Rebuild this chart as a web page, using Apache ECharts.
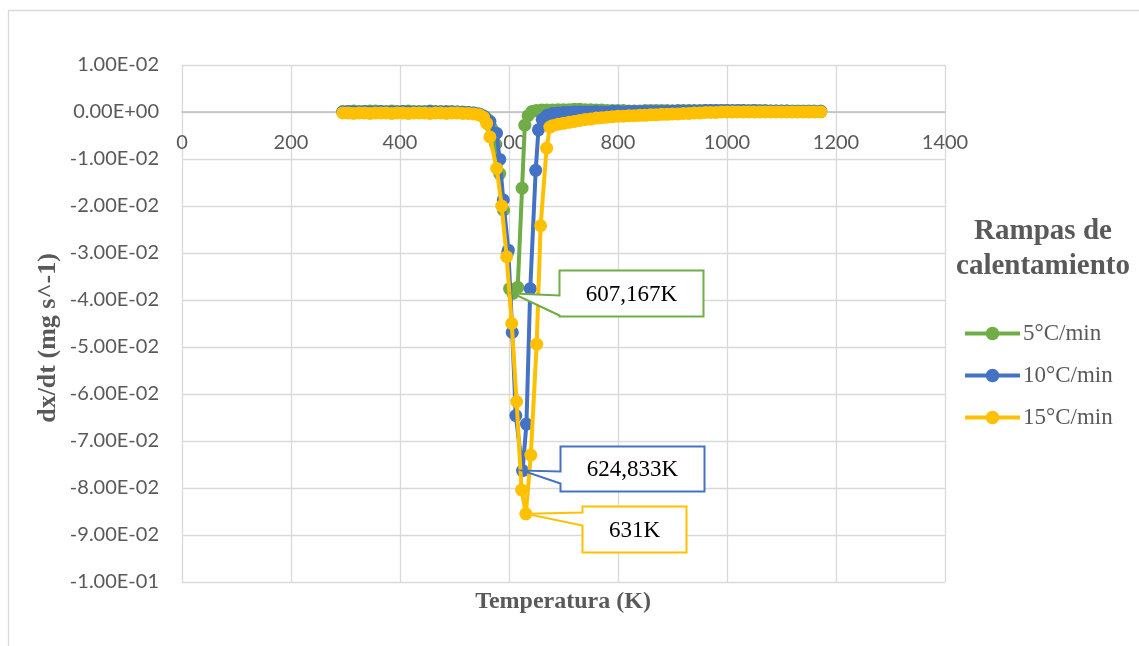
<!DOCTYPE html>
<html>
<head>
<meta charset="utf-8">
<script src="https://cdn.jsdelivr.net/npm/echarts@6/dist/echarts.min.js"></script>
<style>
  html, body { margin: 0; padding: 0; background: #ffffff; }
  #chart { width: 1139px; height: 646px; }
</style>
</head>
<body>
<div id="chart"></div>
<script>
// Series names (heating rates)
const seriesNames = ['5°C/min', '10°C/min', '15°C/min'];

// 5 °C/min: temperature (K) and mass-loss rate dx/dt (mg s^-1)
const tempsG = [295,305,315,325,335,345,355,365,375,385,395,405,415,425,435,445,455,465,475,485,495,505,515,525,535,545,
  553,561,568,575,583,590,597,601,607.167,616,624,629,635,642,650,660,670,
  680,690,700,710,720,730,740,750,760,770,
  780,790,800,810,820,830,840,850,860,870,
  880,890,900,910,920,930,940,950,960,970,
  980,990,1000,1010,1020,1030,1040,1050,1060,1070,
  1080,1090,1100,1110,1120,1130,1140,1150,1160,1172];
const rateG = [0.0001,0.0001,0.0002,0.0001,0.0001,0.0002,0.0002,0.0001,0.0001,0.0002,0.0001,0.0001,0.0002,0.0001,0.0001,0.0001,0.0002,0.0001,0.0001,0.0001,0.0001,0,0,-0.0001,-0.0002,-0.0004,
  -0.0008,-0.0016,-0.0034,-0.0068,-0.0131,-0.0209,-0.0301,-0.0376,-0.0386,-0.0373,-0.0162,-0.0028,-0.0008,0.0001,0.0003,0.0004,0.0004,
  0.0004,0.0005,0.0005,0.0005,0.0006,0.0006,0.0005,0.0005,0.0004,0.0004,
  0.0003,0.0003,0.0003,0.0003,0.0002,0.0002,0.0002,0.0003,0.0003,0.0003,
  0.0003,0.0003,0.0002,0.0003,0.0003,0.0003,0.0003,0.0003,0.0003,0.0003,
  0.0003,0.0003,0.0003,0.0002,0.0003,0.0003,0.0003,0.0003,0.0003,0.0003,
  0.0002,0.0002,0.0002,0.0002,0.0002,0.0002,0.0002,0.0002,0.0002,0.0002];

// 10 °C/min
const tempsB = [295,305,315,325,335,345,355,365,375,385,395,405,415,425,435,445,455,465,475,485,495,505,515,525,535,545,555,
  565,577,583,589.5,598.7,606,612.5,624.833,632,639,649,654,661,670,
  680,690,700,710,720,730,740,750,760,770,
  780,790,800,810,820,830,840,850,860,870,
  880,890,900,910,920,930,940,950,960,970,
  980,990,1000,1010,1020,1030,1040,1050,1060,1070,
  1080,1090,1100,1110,1120,1130,1140,1150,1160,1172];
const rateB = [0,0.0001,0,0,0.0001,0,0,0.0001,0,0,0,0.0001,0,0,0,0,0.0001,0,0,0,0,0,-0.0001,-0.0001,-0.0002,-0.0004,-0.0010,
  -0.0020,-0.0045,-0.0101,-0.0187,-0.0294,-0.0469,-0.0646,-0.0763,-0.0664,-0.0376,-0.0124,-0.0038,-0.0016,-0.0007,
  -0.0003,-0.0002,-0.0001,-0.0001,0,0,0,0,0.0001,0,
  0,0.0001,0.0001,0,0.0001,0.0001,0.0001,0.0001,0.0001,0.0001,
  0.0001,0.0001,0.0002,0.0002,0.0002,0.0002,0.0002,0.0002,0.0003,0.0003,
  0.0003,0.0003,0.0003,0.0003,0.0003,0.0003,0.0002,0.0003,0.0002,0.0002,
  0.0002,0.0002,0.0002,0.0002,0.0001,0.0001,0.0001,0.0001,0.0001,0.0001];

// 15 °C/min
const tempsY = [295,305,315,325,335,345,355,365,375,385,395,405,415,425,435,445,455,465,475,485,495,505,515,525,535,545,
  553,559,565,577.4,586.6,595.7,605,614,623,631,640,650.8,658,669,675,
  680,690,700,710,720,730,740,750,760,770,
  780,790,800,810,820,830,840,850,860,870,
  880,890,900,910,920,930,940,950,960,970,
  980,990,1000,1010,1020,1030,1040,1050,1060,1070,
  1080,1090,1100,1110,1120,1130,1140,1150,1160,1172];
const rateY = [-0.0002,-0.0002,-0.0003,-0.0002,-0.0002,-0.0003,-0.0002,-0.0002,-0.0002,-0.0003,-0.0002,-0.0002,-0.0003,-0.0002,-0.0002,-0.0002,-0.0003,-0.0002,-0.0002,-0.0003,-0.0002,-0.0002,-0.0003,-0.0003,-0.0004,-0.0006,
  -0.0011,-0.0024,-0.0053,-0.0120,-0.0200,-0.0308,-0.0450,-0.0616,-0.0804,-0.0855,-0.0730,-0.0494,-0.0242,-0.0077,-0.0032,
  -0.0029,-0.0026,-0.0024,-0.0022,-0.0020,-0.0018,-0.0016,-0.0015,-0.0013,-0.0012,
  -0.0011,-0.0010,-0.0009,-0.0009,-0.0008,-0.0008,-0.0007,-0.0007,-0.0006,-0.0006,
  -0.0005,-0.0005,-0.0004,-0.0004,-0.0003,-0.0003,-0.0002,-0.0002,-0.0001,-0.0001,
  -0.0001,0,0,0,0,0,0,0,0,0,
  0,0,0,0,0,0,0,0,0,0];

// Peak temperatures marked with callouts (one per series)
const peakTemps = [607.167, 624.833, 631];

// Axis ranges and ticks
const xTicks = { min: 0, max: 1400, interval: 200 };
const yTicks = { min: -0.1, max: 0.01, interval: 0.01 };

const colors = ['#70AD47', '#4472C4', '#FFC000'];
const SERIF = '"Liberation Serif", "Times New Roman", serif';
const SANS = 'Lato, "Liberation Sans", sans-serif';

function zip(xs, ys) { return xs.map((x, i) => [x, ys[i]]); }
function sci(v) {
  const s = Number(v).toExponential(2);
  const parts = s.split('e');
  const sign = parts[1][0];
  const digits = parts[1].slice(1).padStart(2, '0');
  return parts[0] + 'E' + sign + digits;
}

const seriesData = [zip(tempsG, rateG), zip(tempsB, rateB), zip(tempsY, rateY)];

const chart = echarts.init(document.getElementById('chart'), null, { renderer: 'canvas' });

const option = {
  animation: false,
  backgroundColor: '#ffffff',
  grid: { left: 182, right: 194, top: 65, bottom: 64 },
  xAxis: {
    type: 'value',
    min: xTicks.min, max: xTicks.max, interval: xTicks.interval,
    offset: 0,
    axisLine: { onZero: false, lineStyle: { color: '#bfbfbf', width: 1.5 } },
    axisTick: { show: false },
    axisLabel: { color: '#595959', fontFamily: SANS, fontSize: 20, margin: 21, formatter: v => String(v) },
    splitLine: { show: true, lineStyle: { color: '#d9d9d9', width: 1.3 } }
  },
  yAxis: {
    type: 'value',
    min: yTicks.min, max: yTicks.max, interval: yTicks.interval,
    axisLine: { show: false },
    axisTick: { show: false },
    axisLabel: { color: '#595959', fontFamily: SANS, fontSize: 20, margin: 23, formatter: sci },
    splitLine: { show: true, lineStyle: { color: '#d9d9d9', width: 1.3 } }
  },
  legend: {
    orient: 'vertical',
    left: 958, top: 317,
    itemWidth: 55, itemHeight: 17, itemGap: 19,
    data: seriesNames,
    lineStyle: { width: 4 },
    textStyle: { color: '#595959', fontFamily: SERIF, fontSize: 23, padding: [0, 0, 0, -2] }
  },
  series: seriesNames.map((name, i) => ({
    name: name,
    type: 'line',
    data: seriesData[i],
    symbol: 'circle',
    symbolSize: 13,
    showAllSymbol: true,
    color: colors[i],
    lineStyle: { color: colors[i], width: 4 },
    itemStyle: { color: colors[i] },
    z: 2 + i
  })),
  graphic: []
};

chart.setOption(option);

// Move the x axis line (with its labels) up to dx/dt = 0
const zeroPx = chart.convertToPixel({ yAxisIndex: 0 }, 0);
const bottomPx = chart.convertToPixel({ yAxisIndex: 0 }, yTicks.min);
chart.setOption({ xAxis: { offset: zeroPx - bottomPx } });

// Callout boxes: offsets from the peak point, box size and pointer base (relative to box top)
const calloutStyle = [
  { dx: 46, dy: -23, w: 144, h: 46, b1: 25, b2: 45 },
  { dx: 37, dy: -25, w: 144, h: 45, b1: 25, b2: 37 },
  { dx: 56, dy: -8, w: 104, h: 46, b1: 6, b2: 19 }
];
const temps = [tempsG, tempsB, tempsY];
const rates = [rateG, rateB, rateY];

const graphics = [];
// Outer chart frame
graphics.push({
  type: 'rect', z: 0, silent: true,
  shape: { x: 8.5, y: 10.5, width: 1300, height: 800 },
  style: { fill: null, stroke: '#d9d9d9', lineWidth: 1.3 }
});

peakTemps.forEach((t, i) => {
  const idx = temps[i].indexOf(t);
  const p = chart.convertToPixel({ gridIndex: 0 }, [t, rates[i][idx]]);
  const c = calloutStyle[i];
  const x0 = Math.round(p[0] + c.dx) + 0.5;
  const y0 = Math.round(p[1] + c.dy) + 0.5;
  graphics.push({
    type: 'polygon', z: 100, silent: true,
    shape: { points: [
      [x0, y0], [x0 + c.w, y0], [x0 + c.w, y0 + c.h], [x0, y0 + c.h],
      [x0, y0 + c.b2], [p[0], p[1]], [x0, y0 + c.b1]
    ] },
    style: { fill: '#ffffff', stroke: colors[i], lineWidth: 2 }
  });
  graphics.push({
    type: 'text', z: 101, silent: true,
    x: x0 + c.w / 2, y: y0 + c.h / 2 + 1,
    style: {
      text: String(t).replace('.', ',') + 'K',
      fill: '#000000', font: '23px ' + SERIF,
      textAlign: 'center', textVerticalAlign: 'middle'
    }
  });
});

// Axis titles
graphics.push({
  type: 'text', z: 10, silent: true,
  x: 563, y: 602,
  style: { text: 'Temperatura (K)', fill: '#595959', font: 'bold 24px ' + SERIF, textAlign: 'center', textVerticalAlign: 'middle' }
});
graphics.push({
  type: 'text', z: 10, silent: true,
  x: 48, y: 338, rotation: Math.PI / 2,
  style: { text: 'dx/dt (mg s^-1)', fill: '#595959', font: 'bold 26px ' + SERIF, textAlign: 'center', textVerticalAlign: 'middle' }
});
// Legend title
graphics.push({
  type: 'text', z: 10, silent: true,
  x: 1043, y: 232,
  style: { text: 'Rampas de', fill: '#595959', font: 'bold 29px ' + SERIF, textAlign: 'center', textVerticalAlign: 'middle' }
});
graphics.push({
  type: 'text', z: 10, silent: true,
  x: 1043, y: 267,
  style: { text: 'calentamiento', fill: '#595959', font: 'bold 29px ' + SERIF, textAlign: 'center', textVerticalAlign: 'middle' }
});

chart.setOption({ graphic: graphics });
</script>
</body>
</html>
